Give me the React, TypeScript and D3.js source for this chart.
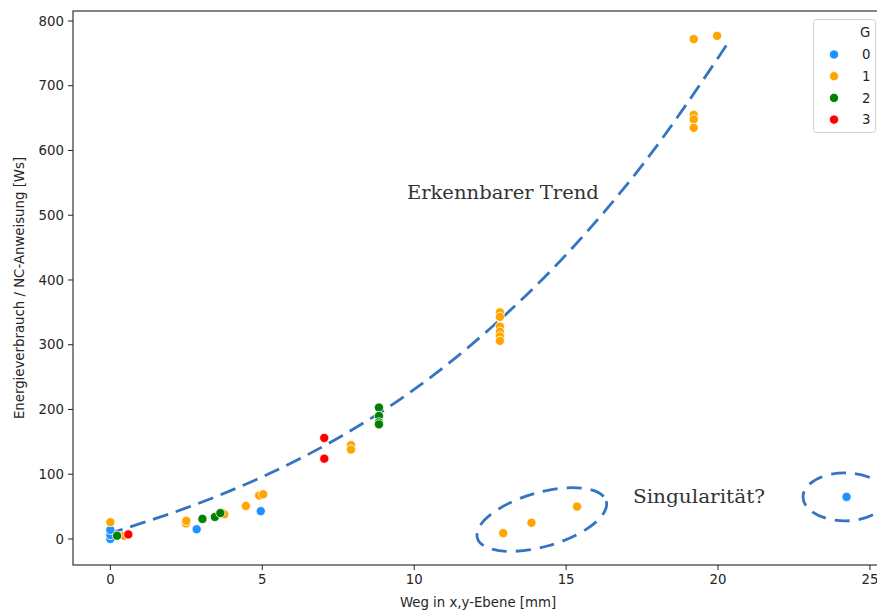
import React from "react";
import * as d3 from "d3";

// ---- data ----
const g0X = [0, 0, 0, 2.84, 4.95, 24.23];
const g0Y = [0, 6, 14, 15, 43, 65];

const g1X = [0, 0.45, 2.49, 2.5, 3.7, 3.75, 4.46, 4.9, 5.03, 7.92, 7.92, 12.82, 12.82, 12.82, 12.82, 12.82, 12.82, 19.2, 19.97, 19.2, 19.2, 19.2, 12.93, 13.86, 15.36];
const g1Y = [26, 5, 24, 28, 40, 38, 51, 67, 69, 145, 138, 350, 343, 328, 320, 313, 306, 772, 777, 655, 648, 635, 9, 25, 50];

const g2X = [0.22, 3.03, 3.44, 3.62, 8.84, 8.84, 8.84, 8.84];
const g2Y = [5, 31, 34, 40, 203, 190, 180, 177];

const g3X = [0.59, 7.04, 7.04];
const g3Y = [7, 156, 124];

const groups = ["0", "1", "2", "3"];
const groupColors = ["#1e90ff", "#ffa500", "#008000", "#ff0000"];

const trendX = [-0.1, 1, 2.5, 5, 7.5, 10, 12.5, 15, 17.5, 20.4];
const trendY = [7.6, 24, 48, 96, 156, 231, 325, 439, 577, 771];

const xTicks = [0, 5, 10, 15, 20, 25];
const yTicks = [0, 100, 200, 300, 400, 500, 600, 700, 800];

const xLabel = "Weg in x,y-Ebene [mm]";
const yLabel = "Energieverbrauch / NC-Anweisung [Ws]";
const legendTitle = "G";

const noteTrend = { text: "Erkennbarer Trend", x: 9.76, y: 525 };
const noteSing = { text: "Singularität?", x: 17.2, y: 55.6 };
const singEllipses = [
  { cx: 14.2, cy: 30, rx: 67, ry: 27, rot: -16 },
  { cx: 24.18, cy: 65, rx: 42, ry: 24, rot: 0 },
];

export default function App() {
  const W = 877, H = 611;
  const left = 73, right = 883, top = 11, bottom = 565;
  const x = d3.scaleLinear().domain([-1.23, 25.43]).range([left, right]);
  const y = d3.scaleLinear().domain([-40.2, 815.4]).range([bottom, top]);

  const series = [
    { xs: g0X, ys: g0Y },
    { xs: g1X, ys: g1Y },
    { xs: g2X, ys: g2Y },
    { xs: g3X, ys: g3Y },
  ];

  const trendPts: [number, number][] = trendX.map((v, i) => [v, trendY[i]]);
  const line = d3
    .line<[number, number]>()
    .x((d) => x(d[0]))
    .y((d) => y(d[1]))
    .curve(d3.curveMonotoneX);

  const blue = "#3574c2";
  const font = "DejaVu Sans, sans-serif";

  return (
    <svg
      width={W}
      height={H}
      style={{ position: "absolute", left: 0, top: 0, background: "#fff" }}
      fontFamily={font}
    >
      <rect x={0} y={0} width={W} height={H} fill="#fff" />
      {/* trend line */}
      <path d={line(trendPts) || ""} fill="none" stroke={blue} strokeWidth={2.8} strokeDasharray="16 8" />
      {/* ellipses */}
      {singEllipses.map((e, i) => (
        <ellipse
          key={i}
          cx={0}
          cy={0}
          rx={e.rx}
          ry={e.ry}
          transform={`translate(${x(e.cx)},${y(e.cy)}) rotate(${e.rot})`}
          fill="none"
          stroke={blue}
          strokeWidth={2.8}
          strokeDasharray="15 9"
        />
      ))}
      {/* points */}
      {series.map((s, gi) =>
        s.xs.map((xv, i) => (
          <circle
            key={`${gi}-${i}`}
            cx={x(xv)}
            cy={y(s.ys[i])}
            r={4.6}
            fill={groupColors[gi]}
            stroke="#fff"
            strokeWidth={0.8}
          />
        ))
      )}
      {/* annotations */}
      <text x={x(noteTrend.x)} y={y(noteTrend.y)} fontFamily="DejaVu Serif, serif" fontSize={19} fill="#333" textLength={192} lengthAdjust="spacingAndGlyphs">
        {noteTrend.text}
      </text>
      <text x={x(noteSing.x)} y={y(noteSing.y)} fontFamily="DejaVu Serif, serif" fontSize={19} fill="#333" textLength={132} lengthAdjust="spacingAndGlyphs">
        {noteSing.text}
      </text>
      {/* spines */}
      <rect x={left} y={top} width={right - left} height={bottom - top} fill="none" stroke="#222" strokeWidth={1.1} />
      {/* x ticks */}
      {xTicks.map((t) => (
        <g key={t} transform={`translate(${x(t)},${bottom})`}>
          <line y1={0} y2={5} stroke="#222" strokeWidth={1} />
          <text y={19} textAnchor="middle" fontSize={13.3} fill="#262626">
            {t}
          </text>
        </g>
      ))}
      {/* y ticks */}
      {yTicks.map((t) => (
        <g key={t} transform={`translate(${left},${y(t)})`}>
          <line x1={0} x2={-5} stroke="#222" strokeWidth={1} />
          <text x={-9} dy="0.35em" textAnchor="end" fontSize={13.3} fill="#262626">
            {t}
          </text>
        </g>
      ))}
      <text x={(left + right) / 2} y={607} textAnchor="middle" fontSize={13.3} fill="#262626">
        {xLabel}
      </text>
      <text transform={`translate(24,${(top + bottom) / 2}) rotate(-90)`} textAnchor="middle" fontSize={13.3} fill="#262626">
        {yLabel}
      </text>
      {/* legend */}
      <g>
        <rect x={813.5} y={19.5} width={62} height={113} rx={3} fill="#fff" stroke="#d0d0d0" strokeWidth={1} />
        <text x={860} y={37} fontSize={13.3} fill="#262626">
          {legendTitle}
        </text>
        {groups.map((g, i) => (
          <g key={g} transform={`translate(0,${54.5 + i * 21.7})`}>
            <circle cx={834} cy={0} r={4.6} fill={groupColors[i]} stroke="#fff" strokeWidth={0.8} />
            <text x={862} dy="0.35em" fontSize={13.3} fill="#262626">
              {g}
            </text>
          </g>
        ))}
      </g>
    </svg>
  );
}
